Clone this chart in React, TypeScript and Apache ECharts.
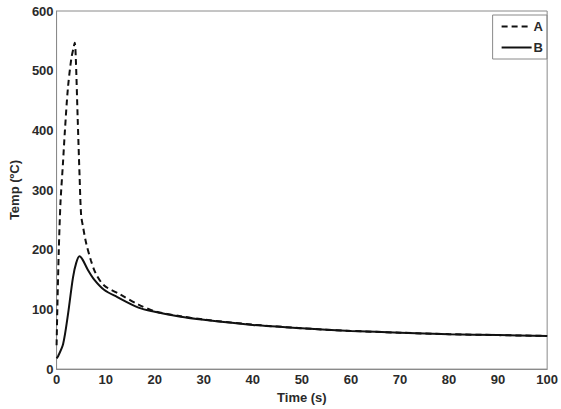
import React, { useEffect, useRef } from "react";
import * as echarts from "echarts";

const timeA = [0, 0.15, 0.45, 0.8, 1.3, 1.7, 2.3, 3.0, 3.5, 3.7, 3.9, 4.3, 4.7, 5.0, 5.4, 6, 7, 8, 9.7, 13, 16.7, 20, 25, 30, 40, 50, 60, 70, 80, 90, 100];
const tempA = [40, 100, 200, 280, 345, 400, 470, 520, 540, 547, 525, 420, 320, 258, 238, 212, 182, 160, 140, 125, 108, 97, 89, 83, 74.5, 68.5, 64, 61, 58.5, 57, 55.5];
const timeB = [0, 0.33, 1.33, 2.33, 3.33, 4.0, 4.67, 5.33, 6.33, 7.67, 9.67, 12.3, 16.7, 20, 25, 30, 40, 50, 60, 70, 80, 90, 100];
const tempB = [18, 22, 42, 92, 153, 178, 189, 183, 167, 150, 133, 121, 103, 96, 88, 82.5, 74, 68.5, 64, 61, 58.5, 57, 55.5];
const xTicks = [0, 10, 20, 30, 40, 50, 60, 70, 80, 90, 100];
const yTicks = [0, 100, 200, 300, 400, 500, 600];

const FONT = "Arial, 'Liberation Sans', sans-serif";
const AXIS_GRAY = "#8a8a8a";

export default function App() {
  const ref = useRef<HTMLDivElement>(null);
  useEffect(() => {
    if (!ref.current) return;
    const chart = echarts.init(ref.current, undefined, { renderer: "svg" });
    const labelStyle = { color: "#2a2a2a", fontSize: 13, fontWeight: "bold", fontFamily: FONT };
    const lineStyle = { color: AXIS_GRAY, width: 1 };
    chart.setOption({
      animation: false,
      backgroundColor: "#fff",
      grid: { left: 50, right: 12, top: 11, bottom: 37, containLabel: false, show: true, borderColor: AXIS_GRAY, borderWidth: 1, backgroundColor: "transparent" },
      legend: {
        right: 14,
        top: 15,
        orient: "vertical",
        data: ["A", "B"],
        itemWidth: 30,
        itemHeight: 10,
        itemGap: 8,
        borderColor: AXIS_GRAY,
        borderWidth: 1,
        padding: [5, 4, 5, 8],
        itemStyle: { color: "rgba(0,0,0,0)", borderColor: "rgba(0,0,0,0)", borderWidth: 0, opacity: 0 },
        textStyle: { ...labelStyle, padding: [0, 0, 0, -3] },
      },
      xAxis: {
        type: "value",
        min: 0,
        max: 100,
        interval: 10,
        name: "Time (s)",
        nameLocation: "middle",
        nameGap: 21,
        nameTextStyle: { ...labelStyle },
        axisLine: { show: true, onZero: false, lineStyle },
        axisTick: { show: false },
        axisLabel: { ...labelStyle, margin: 4, formatter: (v: number) => (xTicks.includes(v) ? String(v) : "") },
        splitLine: { show: false },
      },
      yAxis: {
        type: "value",
        min: 0,
        max: 600,
        interval: 100,
        name: "Temp (ºC)",
        nameLocation: "middle",
        nameRotate: 90,
        nameGap: 28,
        nameTextStyle: { ...labelStyle },
        axisLine: { show: true, onZero: false, lineStyle },
        axisTick: { show: false },
        axisLabel: { ...labelStyle, margin: 3, formatter: (v: number) => (yTicks.includes(v) ? String(v) : "") },
        splitLine: { show: false },
      },
      series: [
        {
          name: "A",
          type: "line",
          data: timeA.map((t, i) => [t, tempA[i]]),
          showSymbol: false,
          symbol: "none",
          smooth: 0.3,
          lineStyle: { color: "#111", width: 2, type: [6, 4] },
          itemStyle: { color: "#111" },
        },
        {
          name: "B",
          type: "line",
          data: timeB.map((t, i) => [t, tempB[i]]),
          showSymbol: false,
          symbol: "none",
          smooth: 0.3,
          lineStyle: { color: "#111", width: 2 },
          itemStyle: { color: "#111" },
        },
      ],
    });
    return () => chart.dispose();
  }, []);
  return <div ref={ref} style={{ width: 561, height: 409, position: "absolute", left: 0, top: 0 }} />;
}
